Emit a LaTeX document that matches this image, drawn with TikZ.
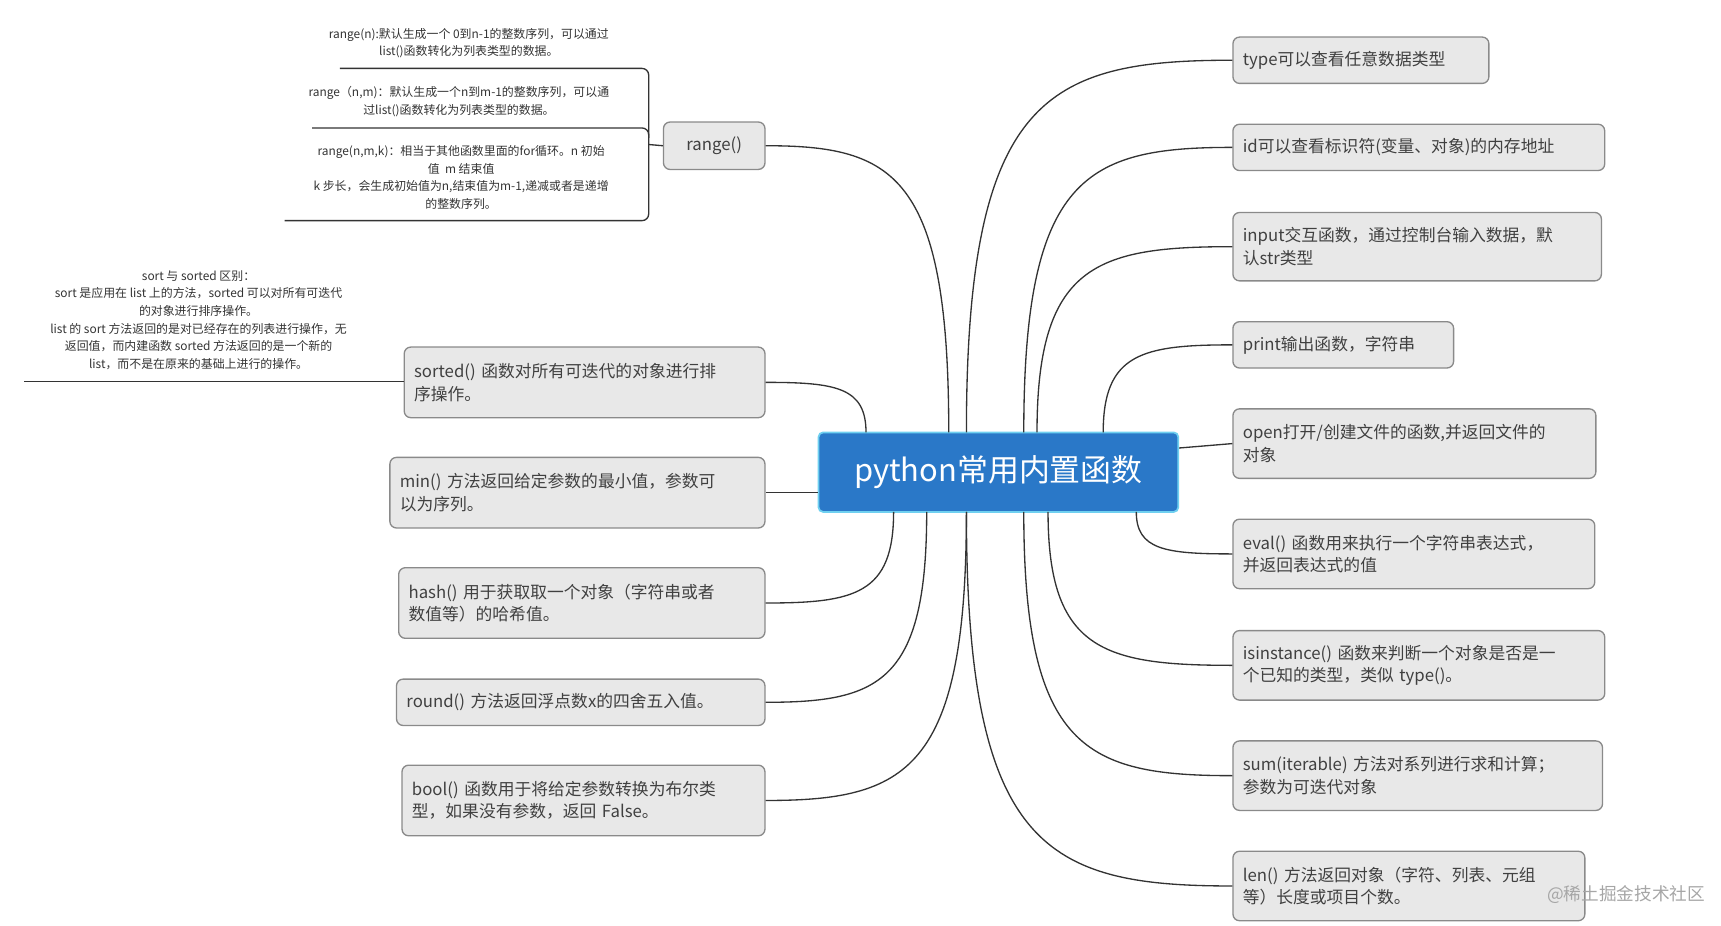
\documentclass[tikz,border=0pt]{standalone}
\usepackage{fontspec}
\setmainfont{Noto Sans CJK SC}
\usetikzlibrary{calc}
\definecolor{boxfill}{HTML}{E8E8E8}
\definecolor{boxline}{HTML}{8A8A8A}
\definecolor{mainblue}{HTML}{2A78C8}
\definecolor{mainedge}{HTML}{6FD0F0}
\definecolor{linkc}{HTML}{333333}

\begin{document}
\begin{tikzpicture}[x=0.5pt,y=-0.5pt,
  item/.style={draw=boxline,fill=boxfill,rounded corners=3pt,line width=0.6pt,
    align=left,inner xsep=4.5pt,inner ysep=0pt,font=\fontsize{7.6}{10.2}\selectfont,text=black!75},
  note/.style={align=center,font=\fontsize{5.4}{8}\selectfont,text=black!80,inner sep=0pt},
  link/.style={draw=linkc,line width=0.6pt}]
\useasboundingbox (0,0) rectangle (1560,839);

%% noeud central
\node[draw=mainedge,line width=0.8pt,fill=mainblue,rounded corners=2pt,minimum width=163pt,minimum height=36pt,
  text=white,font=\fontsize{14}{16}\selectfont] (c) at (905,428) {python常用内置函数};

%% boites a droite
\node[item,anchor=north west,text width=107pt,minimum height=21pt] (type) at (1117,33) {type可以查看任意数据类型};
\node[item,anchor=north west,text width=159.5pt,minimum height=21pt] (id) at (1117,112) {id可以查看标识符(变量、对象)的内存地址};
\node[item,anchor=north west,text width=158pt,minimum height=31pt] (input) at (1117,192) {input交互函数，通过控制台输入数据，默\\认str类型};
\node[item,anchor=north west,text width=91pt,minimum height=21pt] (print) at (1117,291) {print输出函数，字符串};
\node[item,anchor=north west,text width=155.5pt,minimum height=31.5pt] (open) at (1117,370) {open打开/创建文件的函数,并返回文件的\\对象};
\node[item,anchor=north west,text width=155pt,minimum height=31.5pt] (eval) at (1117,470) {eval() 函数用来执行一个字符串表达式，\\并返回表达式的值};
\node[item,anchor=north west,text width=159.5pt,minimum height=31.5pt] (isin) at (1117,571) {isinstance() 函数来判断一个对象是否是一\\个已知的类型，类似 type()。};
\node[item,anchor=north west,text width=158.5pt,minimum height=31.5pt] (sum) at (1117,671) {sum(iterable) 方法对系列进行求和计算；\\参数为可迭代对象};
\node[item,anchor=north west,text width=150.5pt,minimum height=31.5pt] (len) at (1117,771) {len() 方法返回对象（字符、列表、元组\\等）长度或项目个数。};

%% boites a gauche
\node[item,anchor=north east,text width=37pt,minimum height=21.5pt,align=center] (range) at (694,110) {range()};
\node[item,anchor=north east,text width=154.5pt,minimum height=32pt] (sorted) at (694,314) {sorted() 函数对所有可迭代的对象进行排\\序操作。};
\node[item,anchor=north east,text width=161pt,minimum height=32pt] (min) at (694,414) {min() 方法返回给定参数的最小值，参数可\\以为序列。};
\node[item,anchor=north east,text width=157pt,minimum height=32pt] (hash) at (694,514) {hash() 用于获取取一个对象（字符串或者\\数值等）的哈希值。};
\node[item,anchor=north east,text width=158pt,minimum height=21pt] (round) at (694,615) {round() 方法返回浮点数x的四舍五入值。};
\node[item,anchor=north east,text width=155.5pt,minimum height=32pt] (bool) at (694,693) {bool() 函数用于将给定参数转换为布尔类\\型，如果没有参数，返回 False。};

%% points de depart
\foreach \n/\x in {type/876,id/928,input/940,print/1000,range/860,sorted/785}
  \coordinate (s\n) at (\x,392);
\foreach \n/\x in {eval/1030,isin/950,sum/928,len/876,hash/810,round/840,bool/876}
  \coordinate (s\n) at (\x,464);

%% liaisons
\foreach \n in {type,id,input,print,eval,isin,sum,len}
  \draw[link] (s\n) .. controls ($(s\n)!0.9!(s\n|-\n.west)$) and ($(\n.west)!0.7!(s\n|-\n.west)$) .. (\n.west);
\foreach \n in {range,sorted,hash,round,bool}
  \draw[link] (s\n) .. controls ($(s\n)!0.9!(s\n|-\n.east)$) and ($(\n.east)!0.7!(s\n|-\n.east)$) .. (\n.east);
\draw[link] (c.east|-open.west) ++(0,4) coordinate (sopen) -- (open.west);
\draw[link] (c.west|-min.east) coordinate (smin) -- (min.east);

%% notes de range()
\node[note] (r1) at (425,39) {range(n):默认生成一个 0到n-1的整数序列，可以通过\\list()函数转化为列表类型的数据。};
\node[note] (r2) at (416,92) {range（n,m)：默认生成一个n到m-1的整数序列，可以通\\过list()函数转化为列表类型的数据。};
\node[note] (r3) at (418,161) {range(n,m,k)：相当于其他函数里面的for循环。n 初始\\值\ \ m 结束值\\k 步长，会生成初始值为n,结束值为m-1,递减或者是递增\\的整数序列。};
\coordinate (rk) at (588,131);
\draw[link,rounded corners=3pt] (308,62) -- (588,62) -- (588,200) -- (258,200);
\draw[link,rounded corners=3pt] (283,116) -- (588,116) -- (588,125);
\draw[link] (rk) -- (range.west);

%% note de sorted()
\node[note] (sn) at (180,290) {sort 与 sorted 区别：\\sort 是应用在 list 上的方法，sorted 可以对所有可迭代\\的对象进行排序操作。\\list 的 sort 方法返回的是对已经存在的列表进行操作，无\\返回值，而内建函数 sorted 方法返回的是一个新的\\list，而不是在原来的基础上进行的操作。};
\coordinate (sl) at (22,346);
\draw[link] (sl) -- (sorted.west|-sl);

%% filigrane
\node[font=\fontsize{8}{10}\selectfont,text=black!35,anchor=east,inner sep=0pt] (wm) at (1546,811) {@稀土掘金技术社区};
\end{tikzpicture}
\end{document}
